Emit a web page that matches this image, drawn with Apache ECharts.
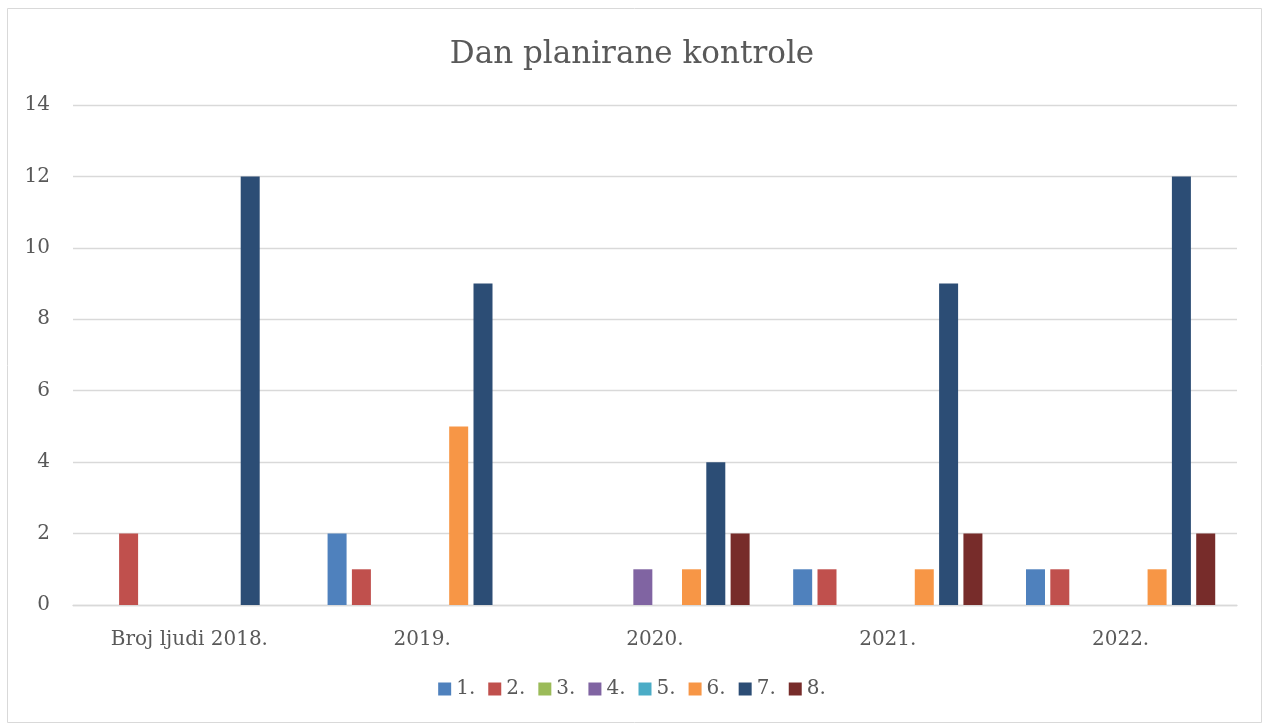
<!DOCTYPE html>
<html><head><meta charset="utf-8">
<script src="https://cdn.jsdelivr.net/npm/echarts@6/dist/echarts.min.js"></script>
<style>html,body{margin:0;padding:0;background:#fff}#c{width:1264px;height:724px}</style>
</head><body><div id="c"></div>
<script>
const categories = ['Broj ljudi 2018.', '2019.', '2020.', '2021.', '2022.'];
const seriesNames = ['1.', '2.', '3.', '4.', '5.', '6.', '7.', '8.'];
const s1 = [0, 2, 0, 1, 1];
const s2 = [2, 1, 0, 1, 1];
const s3 = [0, 0, 0, 0, 0];
const s4 = [0, 0, 1, 0, 0];
const s5 = [0, 0, 0, 0, 0];
const s6 = [0, 5, 1, 1, 1];
const s7 = [12, 9, 4, 9, 12];
const s8 = [0, 0, 2, 2, 2];
const yTicks = [0, 2, 4, 6, 8, 10, 12, 14];
const colors = ['#4F81BD', '#C0504D', '#9BBB59', '#8064A2', '#4BACC6', '#F79646', '#2C4D75', '#772C2A'];
const values = [s1, s2, s3, s4, s5, s6, s7, s8];
const FONT = 'DejaVu Serif';
const chart = echarts.init(document.getElementById('c'));
chart.setOption({
  animation: false,
  color: colors,
  textStyle: { fontFamily: FONT },
  title: {
    text: 'Dan planirane kontrole', left: 'center', top: 34,
    textStyle: { fontFamily: FONT, fontSize: 31, fontWeight: 'normal', color: '#595959' }
  },
  graphic: [{
    type: 'rect', shape: { x: 7.5, y: 8.5, width: 1254, height: 714 },
    style: { fill: 'none', stroke: '#d9d9d9', lineWidth: 1 }, silent: true
  }],
  legend: {
    bottom: 20, left: 'center', itemWidth: 13, itemHeight: 13, itemGap: 13,
    icon: 'rect',
    textStyle: { fontFamily: FONT, fontSize: 20, color: '#595959' },
    data: seriesNames
  },
  grid: { left: 73, right: 27, top: 105, bottom: 119, containLabel: false },
  xAxis: {
    type: 'category', data: categories,
    axisLine: { lineStyle: { color: '#d9d9d9', width: 1.3 } },
    axisTick: { show: false },
    axisLabel: { fontFamily: FONT, fontSize: 20, color: '#595959', margin: 25 }
  },
  yAxis: {
    type: 'value', min: yTicks[0], max: yTicks[yTicks.length - 1], interval: 2,
    axisLine: { show: false }, axisTick: { show: false },
    splitLine: { lineStyle: { color: '#d9d9d9', width: 1.3 } },
    axisLabel: { fontFamily: FONT, fontSize: 20, color: '#595959', margin: 23 }
  },
  series: seriesNames.map((n, i) => ({
    name: n, type: 'bar', data: values[i],
    barWidth: 19, barGap: '28%',
    itemStyle: { color: colors[i], borderWidth: 0 }
  }))
});
</script></body></html>
